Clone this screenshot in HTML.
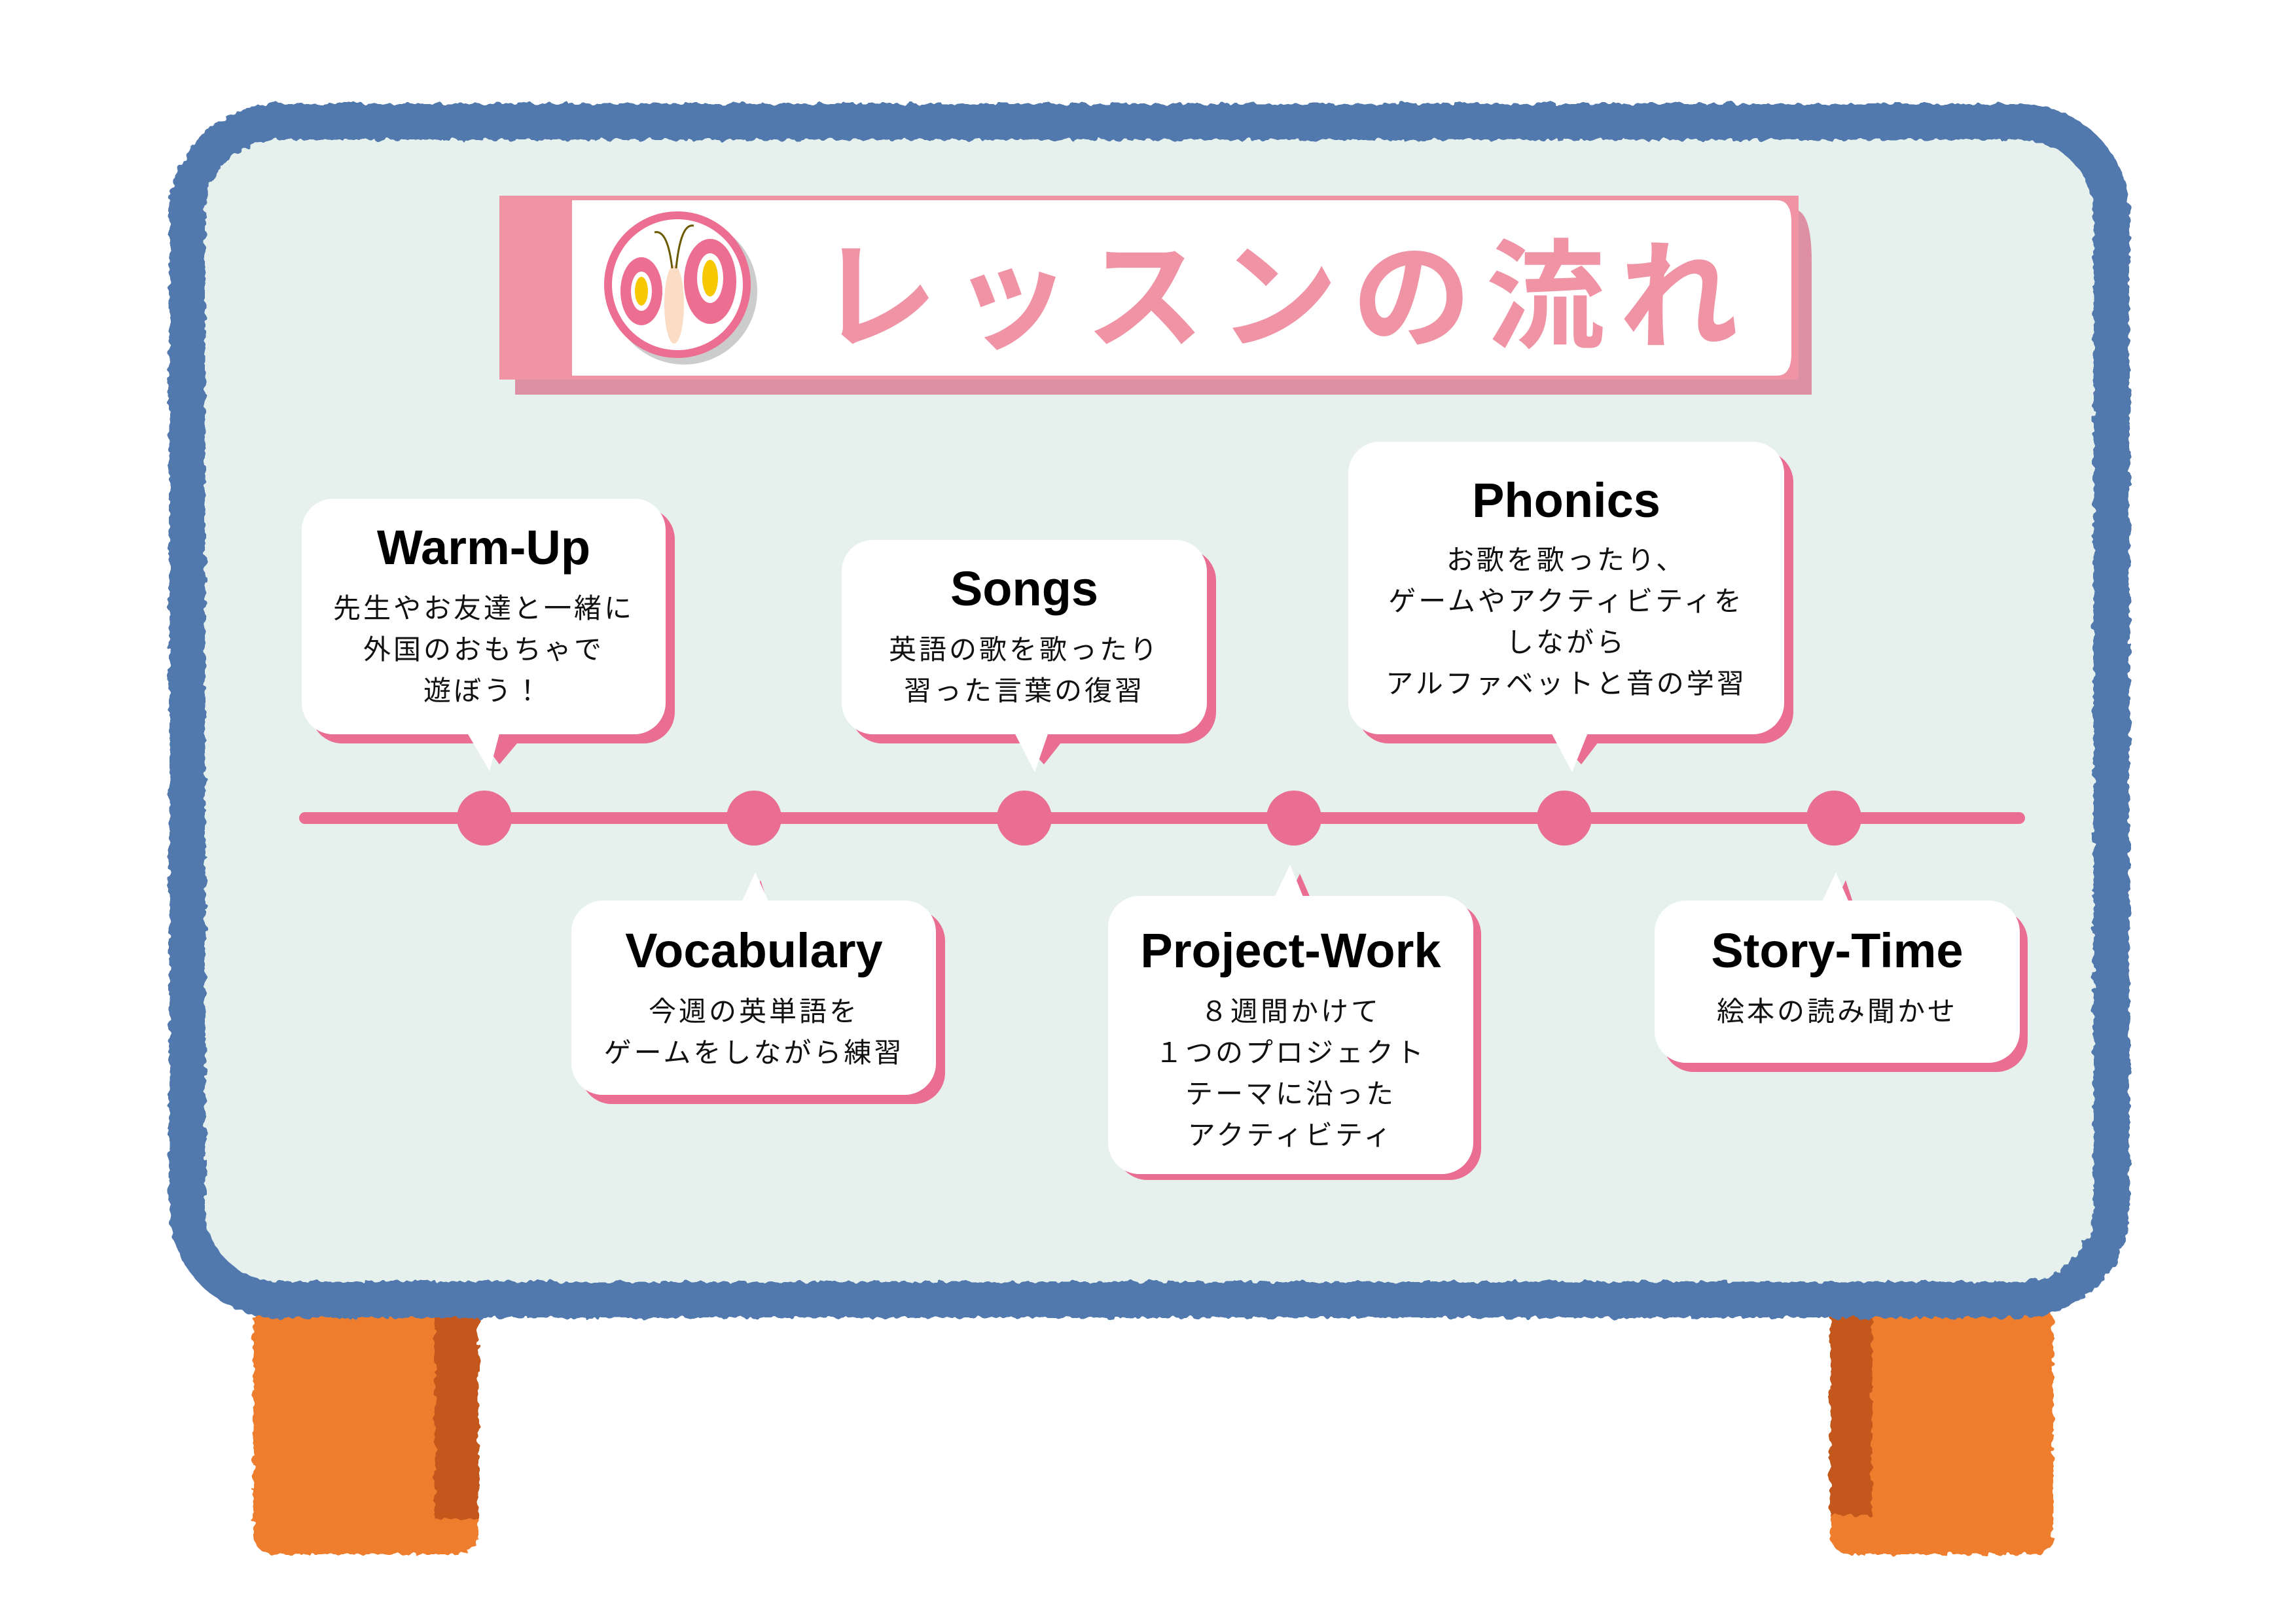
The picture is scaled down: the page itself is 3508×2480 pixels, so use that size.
<!DOCTYPE html>
<html><head><meta charset="utf-8"><style>
html,body{margin:0;padding:0;background:#fff;}
svg{display:block;}
.t{font-family:"Liberation Sans","Noto Sans CJK JP",sans-serif;font-weight:bold;font-size:74px;fill:#000;text-anchor:middle;}
.b{font-family:"Liberation Sans","Noto Sans CJK JP",sans-serif;font-size:42px;fill:#111;text-anchor:middle;letter-spacing:4px;}
</style></head><body>
<svg width="3508" height="2480" viewBox="0 0 3508 2480" xmlns="http://www.w3.org/2000/svg">
<defs>
<filter id="rough" x="-5%" y="-5%" width="110%" height="110%">
<feTurbulence type="fractalNoise" baseFrequency="0.08" numOctaves="2" seed="3"/>
<feDisplacementMap in="SourceGraphic" scale="12"/>
</filter>
</defs>
<rect width="3508" height="2480" fill="#fff"/>
<g filter="url(#rough)">
<rect x="387" y="1990" width="344" height="385" rx="30" fill="#ef7d2f"/>
<rect x="664" y="1990" width="67" height="330" fill="#c4581e"/>
<rect x="2796" y="1990" width="341" height="385" rx="30" fill="#ef7d2f"/>
<rect x="2796" y="1990" width="64" height="325" fill="#c4581e"/>
<rect x="286" y="186" width="2940" height="1800" rx="140" fill="#e6f1ed" stroke="#5179ae" stroke-width="55"/>
</g>
<path d="M787 320 H2740 Q2768 320 2768 400 V603 H787 Z" fill="#dd90a3"/>
<rect x="763" y="299" width="1985" height="281" fill="#ef93a5"/>
<path d="M874 306 H2715 Q2737 306 2737 340 V540 Q2737 574 2715 574 H874 Z" fill="#fff"/>
<circle cx="1045" cy="445" r="112" fill="#ccc"/>
<circle cx="1035" cy="435" r="112" fill="#ec6e91"/>
<circle cx="1035" cy="435" r="100" fill="#fff"/>
<ellipse cx="980" cy="445" rx="32" ry="52" fill="#ec6e91"/>
<ellipse cx="980" cy="445" rx="16" ry="30" fill="#fff"/>
<ellipse cx="980" cy="445" rx="10" ry="22" fill="#f7c800"/>
<ellipse cx="1085" cy="430" rx="40" ry="65" fill="#ec6e91"/>
<ellipse cx="1085" cy="425" rx="20" ry="38" fill="#fff"/>
<ellipse cx="1085" cy="425" rx="12" ry="28" fill="#f7c800"/>
<ellipse cx="1030" cy="465" rx="15" ry="60" fill="#fbdcc4"/>
<path d="M1027 410 Q1020 350 1000 355 M1033 410 Q1040 340 1060 345" stroke="#6b5a00" stroke-width="3" fill="none"/>
<text x="1250" y="518" style="font-family:'Liberation Sans','Noto Sans CJK JP',sans-serif;font-weight:bold;font-size:182px;fill:#ef93a5;letter-spacing:22px;">レッスンの流れ</text>
<line x1="466" y1="1250" x2="3085" y2="1250" stroke="#ea6d92" stroke-width="18" stroke-linecap="round"/>
<g fill="#ea6d92">
<circle cx="740" cy="1250" r="42"/><circle cx="1152" cy="1250" r="42"/><circle cx="1565" cy="1250" r="42"/>
<circle cx="1977" cy="1250" r="42"/><circle cx="2390" cy="1250" r="42"/><circle cx="2802" cy="1250" r="42"/>
</g>
<g fill="#ea6d92">
<rect x="475" y="776" width="556" height="360" rx="48"/><path d="M735 1130 L795 1130 L763 1168 Z"/>
<rect x="1300" y="839" width="558" height="297" rx="48"/><path d="M1560 1130 L1625 1130 L1595 1168 Z"/>
<rect x="2074" y="689" width="666" height="447" rx="48"/><path d="M2380 1130 L2445 1130 L2416 1168 Z"/>
<rect x="887" y="1390" width="557" height="297" rx="48"/><path d="M1140 1400 L1180 1400 L1162 1345 Z"/>
<rect x="1705" y="1380" width="558" height="423" rx="48"/><path d="M1960 1390 L2010 1390 L1986 1335 Z"/>
<rect x="2540" y="1390" width="558" height="248" rx="48"/><path d="M2795 1400 L2838 1400 L2820 1345 Z"/>
</g>
<g fill="#fff">
<rect x="461" y="762" width="556" height="360" rx="48"/><path d="M708 1110 L766 1110 L748 1178 Z"/>
<rect x="1286" y="825" width="558" height="297" rx="48"/><path d="M1545 1110 L1605 1110 L1581 1180 Z"/>
<rect x="2060" y="675" width="666" height="447" rx="48"/><path d="M2365 1110 L2430 1110 L2402 1180 Z"/>
<rect x="873" y="1376" width="557" height="297" rx="48"/><path d="M1128 1390 L1180 1390 L1154 1333 Z"/>
<rect x="1693" y="1369" width="558" height="425" rx="48"/><path d="M1943 1380 L1995 1380 L1971 1321 Z"/>
<rect x="2528" y="1376" width="558" height="248" rx="48"/><path d="M2778 1390 L2830 1390 L2805 1333 Z"/>
</g>
<text class="t" x="739" y="862">Warm-Up</text>
<text class="b" x="739" y="944">先生やお友達と一緒に</text>
<text class="b" x="739" y="1007">外国のおもちゃで</text>
<text class="b" x="739" y="1070">遊ぼう！</text>
<text class="t" x="1565" y="925">Songs</text>
<text class="b" x="1565" y="1007">英語の歌を歌ったり</text>
<text class="b" x="1565" y="1070">習った言葉の復習</text>
<text class="t" x="2393" y="790">Phonics</text>
<text class="b" x="2393" y="870">お歌を歌ったり、</text>
<text class="b" x="2393" y="933">ゲームやアクティビティを</text>
<text class="b" x="2393" y="996">しながら</text>
<text class="b" x="2393" y="1059">アルファベットと音の学習</text>
<text class="t" x="1152" y="1478">Vocabulary</text>
<text class="b" x="1152" y="1560">今週の英単語を</text>
<text class="b" x="1152" y="1623">ゲームをしながら練習</text>
<text class="t" x="1972" y="1478">Project-Work</text>
<text class="b" x="1972" y="1560">８週間かけて</text>
<text class="b" x="1972" y="1623">１つのプロジェクト</text>
<text class="b" x="1972" y="1686">テーマに沿った</text>
<text class="b" x="1972" y="1749">アクティビティ</text>
<text class="t" x="2807" y="1478">Story-Time</text>
<text class="b" x="2807" y="1560">絵本の読み聞かせ</text>
</svg>
</body></html>
